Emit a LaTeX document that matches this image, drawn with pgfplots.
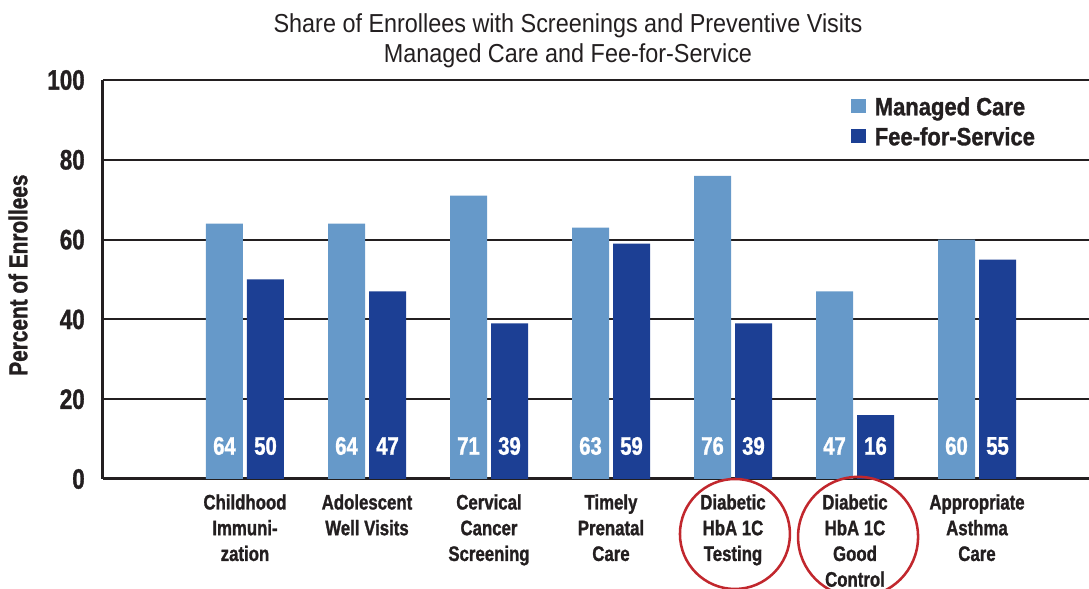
\documentclass[border=0pt]{standalone}
\usepackage{pgfplots}
\pgfplotsset{compat=1.18}
\usepackage{fontspec}
\setmainfont{Liberation Sans}
\newfontfamily\cond[FakeStretch=0.80,FakeBold=1.2]{Liberation Sans Bold}
\newfontfamily\condL[FakeStretch=0.88,FakeBold=1.2]{Liberation Sans Bold}
\newfontfamily\titlef[FakeStretch=0.9]{Liberation Sans}
\definecolor{mclight}{HTML}{6699C9}
\definecolor{ffsdark}{HTML}{1C3F94}
\definecolor{txt}{HTML}{231F20}
\definecolor{circ}{HTML}{C1272D}
\begin{document}
\begin{tikzpicture}
\useasboundingbox (-77.25pt,-82.5pt) rectangle (739.5pt,359.25pt);
\begin{axis}[
  at={(0pt,0pt)}, anchor=south west,
  scale only axis,
  width=739.5pt, height=299.25pt,
  xmin=-1.1639, xmax=6.918,
  ymin=0, ymax=100,
  ytick={0,20,40,60,80,100},
  xtick={0,1,2,3,4,5,6},
  xticklabels={{Childhood\\Immuni-\\zation},{Adolescent\\Well Visits},{Cervical\\Cancer\\Screening},{Timely\\Prenatal\\Care},{Diabetic\\HbA 1C\\Testing},{Diabetic\\HbA 1C\\Good\\Control},{Appropriate\\Asthma\\Care}},
  major tick length=0pt,
  axis x line*=bottom, axis y line*=left,
  axis line style={line width=2.25pt, -, color=txt},
  ymajorgrids,
  grid style={line width=1.5pt, color=txt},
  /pgf/number format/assume math mode=true,
  yticklabel style={anchor=east, inner sep=0pt, xshift=-13.5pt, color=txt, font=\cond\fontsize{21}{21}\selectfont},
  xticklabel style={anchor=north, align=center, inner sep=0pt, yshift=-11.25pt, color=txt, font=\cond\fontsize{15.75}{19.3}\selectfont},
  ylabel={Percent of Enrollees},
  every axis y label/.style={at={(axis description cs:-0.0862,0.511)}, rotate=90, anchor=center, color=txt, font=\cond\fontsize{19.5}{19.5}\selectfont},
  title={Share of Enrollees with Screenings and Preventive Visits\\Managed Care and Fee-for-Service},
  every axis title/.style={at={(axis description cs:0.4716,1)}, anchor=south, align=center, inner sep=0pt, yshift=9pt, color=txt, font=\titlef\fontsize{19.5}{22.5}\selectfont},
  ybar=3pt, bar width=27.75pt,
  clip=false,
  legend style={draw=none, fill=none, at={(axis description cs:0.7586,0.957)}, anchor=north west, inner sep=0pt, row sep=9.1pt,
    nodes={inner sep=0pt, text height=13.4pt, text depth=0pt},
    /tikz/every odd column/.append style={column sep=6.75pt},
    font=\condL\fontsize{18.75}{18.75}\selectfont, text=txt},
  legend cell align=left,
  legend image code/.code={\fill[#1] (0pt,-5.3pt) rectangle (10.9pt,5.3pt);},
  visualization depends on={y \as \rawy},
  nodes near coords,
  every node near coord/.append style={anchor=center, shift={(axis direction cs:0,-\rawy)}, yshift=24.75pt, text=white, font=\cond\fontsize{19}{19}\selectfont},
]
\addplot[fill=mclight, draw=none] coordinates {(0,64) (1,64) (2,71) (3,63) (4,76) (5,47) (6,60)};
\addplot[fill=ffsdark, draw=none] coordinates {(0,50) (1,47) (2,39) (3,59) (4,39) (5,16) (6,55)};
\legend{Managed Care, Fee-for-Service}
\draw[circ, line width=1.9pt] (axis cs:4.016,-13.78) circle[radius=41.25pt];
\draw[circ, line width=1.9pt] (axis cs:5.025,-14.5) circle[radius=45pt];
\end{axis}
\end{tikzpicture}
\end{document}
